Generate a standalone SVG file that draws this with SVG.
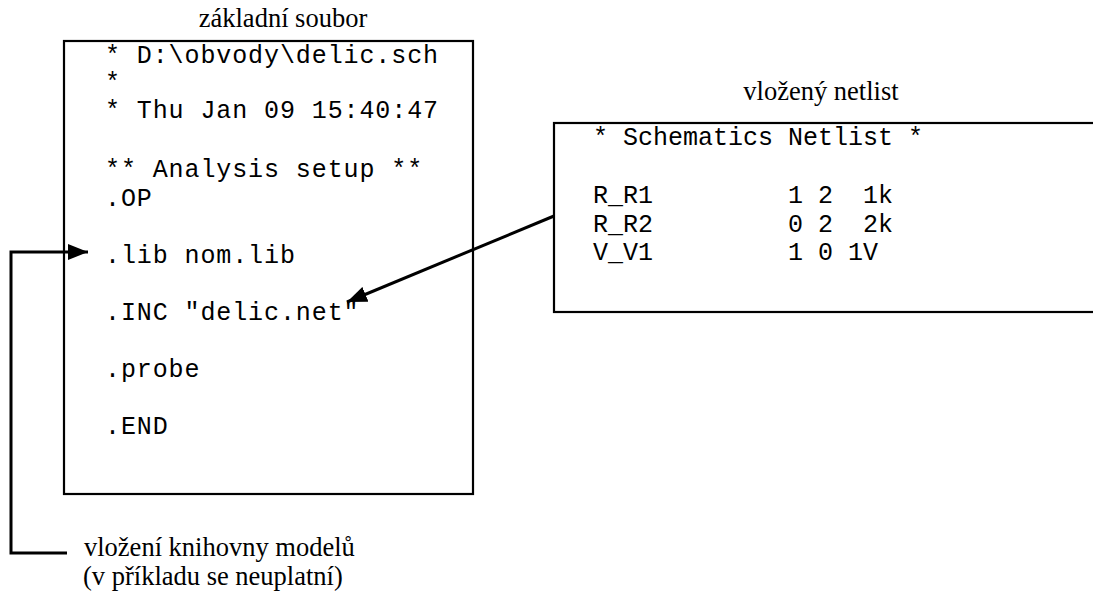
<svg xmlns="http://www.w3.org/2000/svg" width="1093" height="595" viewBox="0 0 1093 595">
<defs>
<style>
.box{fill:#fff;stroke:#000;stroke-width:2.2}
.mono{font-family:"Liberation Mono","Courier New",monospace;font-size:25px;fill:#000}
.lm{letter-spacing:0.9px}
.serif{font-family:"Liberation Serif","Times New Roman",serif;font-size:26.5px;fill:#000}
.conn{fill:none;stroke:#000;stroke-width:3}
</style>
<marker id="ahb" viewBox="0 0 20 16" refX="20" refY="8" markerWidth="20" markerHeight="16" orient="auto" markerUnits="userSpaceOnUse">
<path d="M0,0 L20,8 L0,16 z" fill="#000"/>
</marker>
</defs>
<g id="zakladni">
<text class="serif" x="283" y="27" text-anchor="middle">základní soubor</text>
<rect class="box" x="64" y="41" width="409" height="453"/>
<g class="mono lm">
<text x="105" y="63">* D:\obvody\delic.sch</text>
<text x="105" y="90">*</text>
<text x="105" y="118">* Thu Jan 09 15:40:47</text>
<text x="105" y="177">** Analysis setup **</text>
<text x="105" y="206">.OP</text>
<text x="105" y="263">.lib nom.lib</text>
<text x="105" y="320">.INC "delic.net"</text>
<text x="105" y="377">.probe</text>
<text x="105" y="434">.END</text>
</g>
</g>
<g id="netlist">
<text class="serif" x="821" y="100" text-anchor="middle">vložený netlist</text>
<rect class="box" x="554" y="123" width="560" height="189"/>
<g class="mono">
<text x="593" y="145" xml:space="preserve">* Schematics Netlist *</text>
<text x="593" y="203" xml:space="preserve">R_R1         1 2  1k</text>
<text x="593" y="232" xml:space="preserve">R_R2         0 2  2k</text>
<text x="593" y="260" xml:space="preserve">V_V1         1 0 1V</text>
</g>
</g>
<g id="poznamka">
<text class="serif" x="84" y="556">vložení knihovny modelů</text>
<text class="serif" x="83" y="585">(v příkladu se neuplatní)</text>
</g>
<g id="connectors">
<path class="conn" d="M554,216 L347,302" marker-end="url(#ahb)"/>
<path class="conn" d="M67,553 L11,553 L11,252 L88,252" marker-end="url(#ahb)"/>
</g>
</svg>
